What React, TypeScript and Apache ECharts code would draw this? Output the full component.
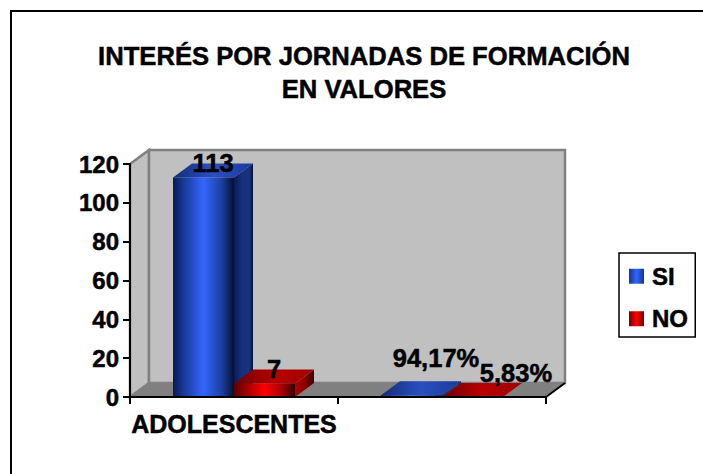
import React, { useEffect, useRef } from "react";
import * as echarts from "echarts";

const titleLines = ["INTERÉS POR JORNADAS DE FORMACIÓN", "EN VALORES"];
const categories = ["ADOLESCENTES", ""];
const seriesNames = ["SI", "NO"];
const siValues = [113, 0.9417];
const noValues = [7, 0.0583];
const siLabels = ["113", "94,17%"];
const noLabels = ["7", "5,83%"];
const yTicks = { min: 0, max: 120, interval: 20 };

const FONT = '"Liberation Sans", Arial, sans-serif';
const DX = 19;
const DY = -14;
const BAR_W = 61;
const HEAVY = { textBorderColor: "#000", textBorderWidth: 0.5 };

const grad = (stops: [number, string][], x2 = 1, y2 = 0) =>
  new echarts.graphic.LinearGradient(0, 0, x2, y2, stops.map(([offset, color]) => ({ offset, color })));

const palette: any = {
  SI: {
    front: () => grad([[0, "#081a50"], [0.15, "#15358f"], [0.5, "#3366ff"], [0.8, "#1c3f9f"], [1, "#050f30"]]),
    side: () => grad([[0, "#0a1a50"], [0.4, "#16307f"], [0.8, "#1a3380"], [1, "#050f30"]]),
    top: () => grad([[0, "#142c78"], [0.5, "#2a4fc0"], [1, "#1a3a9a"]]),
    legend: () => grad([[0, "#15358f"], [0.5, "#3366ff"], [1, "#15358f"]]),
  },
  NO: {
    front: () => grad([[0, "#5a0000"], [0.2, "#a00000"], [0.5, "#ff0000"], [0.8, "#a00000"], [1, "#300000"]]),
    side: () => grad([[0, "#b00000"], [0.6, "#800000"], [1, "#300000"]]),
    top: () => grad([[0, "#700000"], [0.5, "#b80000"], [1, "#a00000"]]),
    legend: () => grad([[0, "#700000"], [0.5, "#ff0000"], [1, "#700000"]]),
  },
};

// label shifts from the centre of the bar's top face, per series and category
const labelShift: any = {
  SI: [[0, -1], [15, -23]],
  NO: [[0, 0], [34, -10]],
};

function barSeries(name: string, index: number, values: number[], labels: string[]) {
  return {
    type: "custom",
    name,
    z: 3,
    clip: false,
    silent: true,
    itemStyle: { color: palette[name].legend() },
    data: values.map((v, i) => [i, v, labels[i]]),
    renderItem: (params: any, api: any) => {
      const cat = api.value(0);
      const val = api.value(1);
      const [cx, yTop] = api.coord([cat, val]);
      const [, yBase] = api.coord([cat, 0]);
      const x0 = cx + (index - 1) * BAR_W;
      const x1 = x0 + BAR_W;
      const p = palette[name];
      const text = labels[params.dataIndex];
      const shift = labelShift[name][params.dataIndex];
      return {
        type: "group",
        children: [
          {
            type: "polygon",
            shape: { points: [[x1, yTop], [x1 + DX, yTop + DY], [x1 + DX, yBase + DY], [x1, yBase]] },
            style: { fill: p.side() },
          },
          {
            type: "polygon",
            shape: { points: [[x0, yTop], [x0 + DX, yTop + DY], [x1 + DX, yTop + DY], [x1, yTop]] },
            style: { fill: p.top() },
          },
          {
            type: "rect",
            shape: { x: x0, y: yTop, width: BAR_W, height: Math.max(yBase - yTop, 0) },
            style: { fill: p.front() },
          },
          {
            type: "text",
            z2: 20,
            style: {
              x: x0 + BAR_W / 2 + DX / 2 + shift[0],
              y: yTop + DY + shift[1],
              text,
              fill: "#000",
              stroke: "#000",
              lineWidth: 0.5,
              font: `bold 25.5px ${FONT}`,
              align: "center",
              verticalAlign: "middle",
            },
          },
        ],
      };
    },
  };
}

const wallSeries = {
  type: "custom",
  z: 1,
  silent: true,
  clip: false,
  legendHoverLink: false,
  data: [[0, 0]],
  renderItem: (params: any) => {
    const { x, y, width, height } = params.coordSys;
    const b = y + height;
    const r = x + width;
    const stroke = { stroke: "#808080", lineWidth: 2.5 };
    return {
      type: "group",
      children: [
        { type: "polygon", shape: { points: [[x, y], [x + DX, y + DY], [x + DX, b + DY], [x, b]] }, style: { fill: "#c0c0c0", ...stroke } },
        { type: "rect", shape: { x: x + DX, y: y + DY, width, height }, style: { fill: "#c0c0c0", ...stroke } },
        { type: "polygon", shape: { points: [[x, b], [x + DX, b + DY], [r + DX, b + DY], [r, b]] }, style: { fill: "#808080", stroke: "#808080", lineWidth: 1 } },
        { type: "line", shape: { x1: r, y1: b, x2: r + DX, y2: b + DY }, style: { stroke: "#000", lineWidth: 2 } },
      ],
    };
  },
};

export default function App() {
  const ref = useRef<HTMLDivElement>(null);
  useEffect(() => {
    const chart = echarts.init(ref.current!, undefined, { renderer: "svg" });
    chart.setOption({
      animation: false,
      backgroundColor: "#fff",
      title: {
        text: titleLines.join("\n"),
        left: 359,
        top: 34,
        textAlign: "center",
        textStyle: { fontFamily: FONT, fontWeight: "bold", fontSize: 25.6, lineHeight: 33, color: "#000", ...HEAVY },
      },
      legend: {
        show: true,
        orient: "vertical",
        left: 619,
        top: 253,
        data: seriesNames,
        padding: [11, 7, 6, 10],
        itemWidth: 15,
        itemHeight: 15,
        itemGap: 18,
        icon: "rect",
        borderColor: "#000",
        borderWidth: 1.5,
        selectedMode: false,
        textStyle: { fontFamily: FONT, fontWeight: "bold", fontSize: 24, color: "#000", padding: [0, 0, 0, 3], ...HEAVY },
      },
      grid: { left: 130, right: 157, top: 164, bottom: 77 },
      xAxis: {
        type: "category",
        data: categories,
        z: 10,
        axisLine: { lineStyle: { color: "#000", width: 2 } },
        axisTick: { show: true, length: 7, lineStyle: { color: "#000", width: 2 } },
        axisLabel: { fontFamily: FONT, fontWeight: "bold", fontSize: 25, color: "#000", margin: 14, interval: 0, ...HEAVY },
      },
      yAxis: {
        type: "value",
        ...yTicks,
        z: 10,
        splitLine: { show: false },
        axisLine: { show: true, lineStyle: { color: "#000", width: 2 } },
        axisTick: { show: true, length: 7, lineStyle: { color: "#000", width: 2 } },
        axisLabel: { fontFamily: FONT, fontWeight: "bold", fontSize: 24, color: "#000", margin: 11, ...HEAVY },
      },
      series: [
        wallSeries,
        barSeries("SI", 0, siValues, siLabels),
        barSeries("NO", 1, noValues, noLabels),
      ],
      graphic: [
        {
          type: "rect",
          silent: true,
          z: 100,
          shape: { x: 11, y: 11, width: 720, height: 480 },
          style: { fill: "none", stroke: "#000", lineWidth: 2 },
        },
      ],
    });
    return () => chart.dispose();
  }, []);
  return <div ref={ref} style={{ position: "fixed", left: 0, top: 0, width: 703, height: 474 }} />;
}
